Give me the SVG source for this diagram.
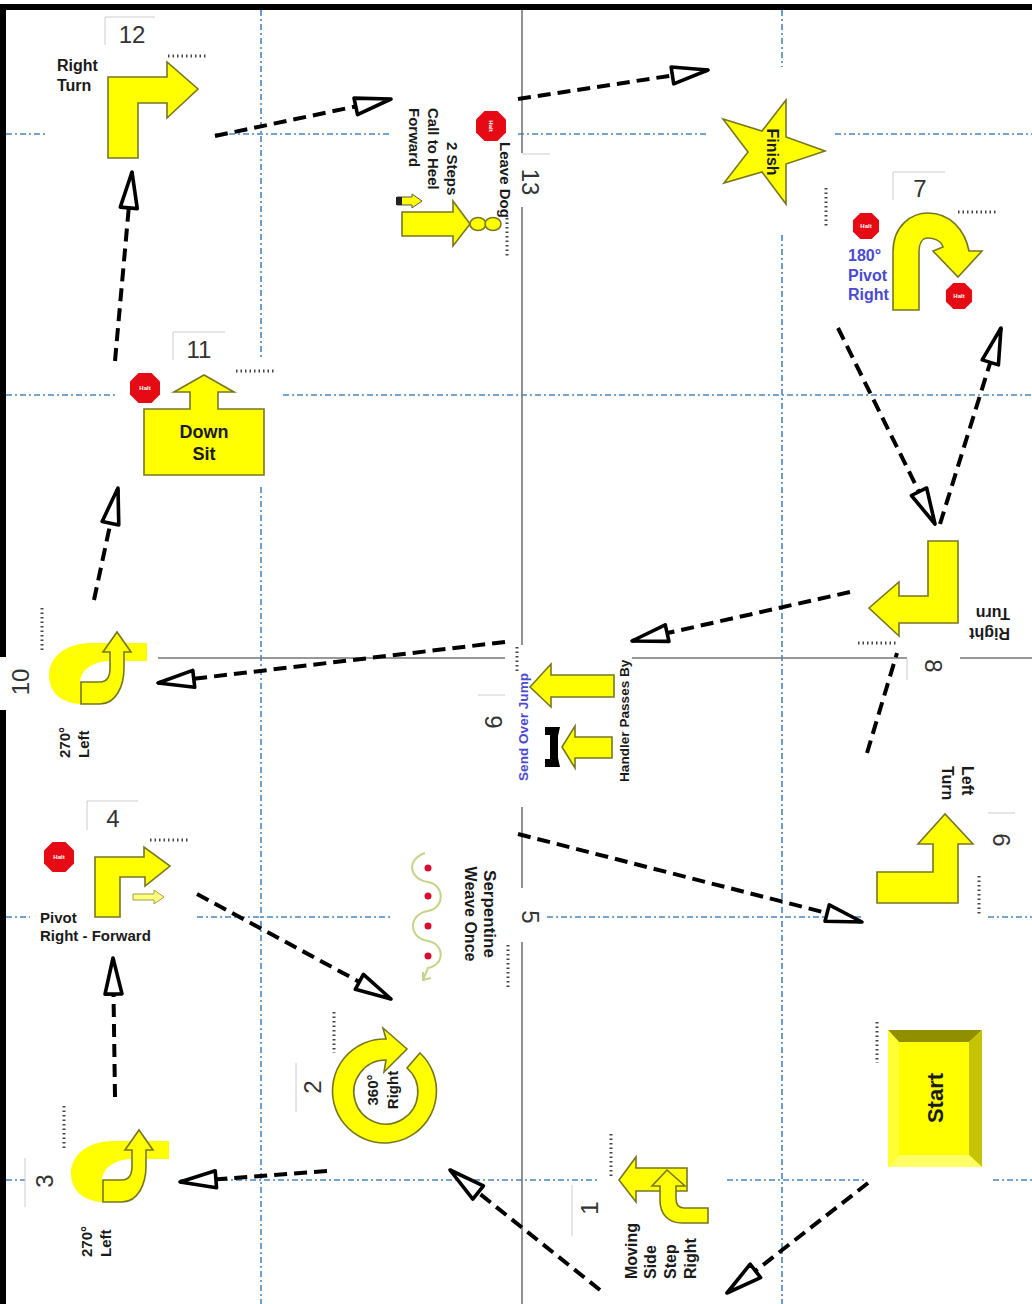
<svg xmlns="http://www.w3.org/2000/svg" width="1032" height="1304" viewBox="0 0 1032 1304">
<style>
text{font-family:"Liberation Sans",Arial,sans-serif;fill:#1a1a1a}
.l{font-size:15px;font-weight:bold}
.m{font-size:16px;font-weight:bold}
.j{font-size:13.6px;font-weight:bold}
.n{font-size:24px;fill:#333}
.b{fill:#4a4ad0}
.y{fill:#ffff00;stroke:#777722;stroke-width:1.6}
.g{fill:none;stroke:#4a86c0;stroke-width:1.6;stroke-dasharray:6 3 2 3}
.s{fill:none;stroke:#777;stroke-width:1.6}
.t{fill:none;stroke:#ccc;stroke-width:1}
.c{fill:none;stroke:#000;stroke-width:4;stroke-dasharray:13 7;marker-end:url(#h)}
.c0{fill:none;stroke:#000;stroke-width:4;stroke-dasharray:13 7}
.tag{fill:none;stroke:#444;stroke-width:3;stroke-dasharray:1.5 3}
.halt{fill:#e60a14}
.ht{font-size:6px;font-weight:bold;fill:#fff;text-anchor:middle}
</style>
<defs>
<marker id="h" markerUnits="userSpaceOnUse" markerWidth="50" markerHeight="30" refX="39" refY="12" orient="auto"><path d="M3 3.5V20.5L39 12Z" fill="#fff" stroke="#000" stroke-width="3.6" stroke-linejoin="round"/></marker>
<path id="oct" d="M-6.5 -15H6.5L15 -6.5V6.5L6.5 15H-6.5L-15 6.5V-6.5Z"/>
<g id="loop"><path d="M147 643V661H108C92 662 81 670 80 682L105 704H82C65 704 49 695 49 675C49 660 62 643 92 643Z" fill="#ffff00"/><path class="y" d="M81 704V682H100C107 682 110 676 110 668V652H103L117 632L131 652H124V668C124 686 116 704 100 704Z"/></g>
</defs>
<rect width="1032" height="1304" fill="#fff"/>
<path d="M0 4H1032V10H6V1304H0Z" fill="#000"/>
<g id="grid">
<path class="g" d="M261 10V360M261 487V1304M782 10V67M782 235V1304"/>
<path class="g" d="M6 134H46M215 134H390M518 134H708M835 134H1032M6 395H115M283 395H1032M6 917H30M197 917H390M547 917H863M988 917H1032M6 1180H25M180 1180H598M727 1180H867M993 1180H1032"/>
<path class="s" d="M522 10V153M522 207V645M522 807V888M522 942V1304M158 658H505M632 658H907M960 658H1032"/>
</g>
<g id="connectors">
<path class="c" d="M868 1183L727 1293"/>
<path class="c" d="M600 1290L450 1170"/>
<path class="c" d="M327 1171L180 1182"/>
<path class="c" d="M115 1097L113 958"/>
<path class="c" d="M197 894L391 999"/>
<path class="c" d="M518 834L862 922"/>
<path class="c0" d="M867 753L897 653"/>
<path class="c" d="M838 328L935 524"/>
<path class="c" d="M940 524L1001 328"/>
<path class="c" d="M850 592L632 641"/>
<path class="c" d="M505 642L158 683"/>
<path class="c" d="M94 600L118 488"/>
<path class="c" d="M115 361L132 172"/>
<path class="c" d="M215 136L391 99"/>
<path class="c" d="M518 99L708 70"/>
</g>
<g id="node-start">
<rect x="888" y="1030" width="94" height="137" fill="#ffff00"/>
<path d="M888 1030H982L969 1042H899Z" fill="#8f8f00"/>
<path d="M982 1030V1167L969 1155V1042Z" fill="#c4c400"/>
<path d="M888 1167H982L969 1155H899Z" fill="#ffff66"/>
<path d="M888 1030L899 1042V1155L888 1167Z" fill="#ffff33"/>
<text transform="translate(943 1098) rotate(-90)" text-anchor="middle" font-size="22" font-weight="bold">Start</text>
<path class="tag" d="M877 1022V1063"/>
</g>
<g id="node-1">
<path class="y" d="M619 1180L636 1157V1168H687V1191H636V1202Z"/>
<path class="y" d="M667 1170L652 1186H660V1200C660 1214 668 1223 682 1223H708V1208H684C678 1208 676 1204 676 1198V1186H685Z"/>
<text class="m" transform="translate(637 1279) rotate(-90)">Moving</text>
<text class="m" transform="translate(656 1279) rotate(-90)">Side</text>
<text class="m" transform="translate(676 1279) rotate(-90)">Step</text>
<text class="m" transform="translate(696 1279) rotate(-90)">Right</text>
<text class="n" transform="translate(598 1208) rotate(-90)" text-anchor="middle">1</text>
<path class="t" d="M572 1185V1236"/>
<path class="tag" d="M611 1134V1177"/>
</g>
<g id="node-2">
<path class="y" d="M420 1053A52 52 0 1 1 386 1039L383 1028L407 1049L384 1072L386 1060A32 32 0 1 0 407 1068Z"/>
<text class="l" transform="translate(378 1090) rotate(-90)" text-anchor="middle">360°</text>
<text class="l" transform="translate(398 1090) rotate(-90)" text-anchor="middle">Right</text>
<text class="n" transform="translate(321 1087) rotate(-90)" text-anchor="middle">2</text>
<path class="t" d="M296 1063V1112"/>
<path class="tag" d="M334 1012V1053"/>
</g>
<g id="node-3">
<use href="#loop" x="22" y="498"/>
<text class="l" transform="translate(92 1257) rotate(-90)">270°</text>
<text class="l" transform="translate(111 1257) rotate(-90)">Left</text>
<text class="n" transform="translate(53 1181) rotate(-90)" text-anchor="middle">3</text>
<path class="t" d="M25 1158V1207"/>
<path class="tag" d="M64 1106V1148"/>
</g>
<g id="node-4">
<path class="y" d="M95 857H144V847L170 866L145 886V877H120V917H95Z"/>
<path d="M133 894H154V890L164 897L154 904V900H133Z" fill="#ffff80" stroke="#a0a040"/>
<use href="#oct" class="halt" x="59" y="857"/>
<text class="ht" x="59" y="859">Halt</text>
<text class="l" x="40" y="923">Pivot</text>
<text class="l" x="40" y="941">Right - Forward</text>
<text class="n" x="113" y="827" text-anchor="middle">4</text>
<path class="t" d="M87 830V801H138"/>
<path class="tag" d="M150 840H190"/>
</g>
<g id="node-5">
<path d="M425 853C405 860 410 880 428 882C445 885 445 908 428 911C408 914 408 938 428 941C445 944 445 965 428 968L423 980M423 972L423 980L431 978" fill="none" stroke="#c2d68a" stroke-width="2"/>
<g fill="#d81030"><circle cx="428" cy="868" r="3.5"/><circle cx="428" cy="896" r="3.5"/><circle cx="428" cy="926" r="3.5"/><circle cx="428" cy="956" r="3.5"/></g>
<text style="font-size:17px;font-weight:bold" transform="translate(484 914) rotate(90)" text-anchor="middle">Serpentine</text>
<text class="m" transform="translate(465 914) rotate(90)" text-anchor="middle">Weave Once</text>
<text class="n" transform="translate(522 917) rotate(90)" text-anchor="middle">5</text>
<path class="tag" d="M508 945V990"/>
</g>
<g id="node-6">
<path class="y" d="M877 872H933V844H918L945 814L973 844H958V903H877Z"/>
<text class="m" transform="translate(962 766) rotate(90)">Left</text>
<text class="m" transform="translate(942 766) rotate(90)">Turn</text>
<text class="n" transform="translate(993 840) rotate(90)" text-anchor="middle">6</text>
<path class="t" d="M988 813H1015"/>
<path class="tag" d="M979 876V916"/>
</g>
<g id="node-7">
<path class="y" d="M893 310V252C893 225 912 213 928 213C950 213 965 230 969 251H982L958 277L933 251L943 247C941 240 933 238 928 238C922 238 919 244 919 252V310Z"/>
<use href="#oct" class="halt" transform="translate(866 226) scale(.87)"/>
<text class="ht" x="866" y="228">Halt</text>
<use href="#oct" class="halt" transform="translate(959 296) scale(.87)"/>
<text class="ht" x="959" y="298">Halt</text>
<text class="m b" x="848" y="261">180°</text>
<text class="m b" x="848" y="281">Pivot</text>
<text class="m b" x="848" y="300">Right</text>
<text class="n" x="920" y="197" text-anchor="middle">7</text>
<path class="t" d="M893 200V172H945"/>
<path class="tag" d="M958 212H998"/>
</g>
<g id="node-8">
<path class="y" d="M928 541H958V623H899V636L869 608L899 582V596H928Z"/>
<text class="m" transform="translate(1010 628) rotate(180)">Right</text>
<text class="m" transform="translate(1010 608) rotate(180)">Turn</text>
<text class="n" transform="translate(925 666) rotate(90)" text-anchor="middle">8</text>
<path class="t" d="M907 658V680"/>
<path class="tag" d="M858 643H898"/>
</g>
<g id="node-9">
<path class="y" d="M530 687L551 664V675H614V697H551V707Z"/>
<path class="y" d="M562 747L575 726V737H612V758H575V768Z"/>
<path d="M545 727H560L558 736V758L560 767H545V759H550V735H545Z" fill="#000"/>
<text class="j b" transform="translate(528 781) rotate(-90)">Send Over Jump</text>
<text class="j" transform="translate(629 782) rotate(-90)">Handler Passes By</text>
<text class="n" transform="translate(485 722) rotate(90)" text-anchor="middle">9</text>
<path class="t" d="M478 695H505"/>
<path class="tag" d="M517 647V672"/>
</g>
<g id="node-10">
<rect x="0" y="657" width="28" height="53" fill="#fff"/>
<use href="#loop"/>
<text class="l" transform="translate(70 758) rotate(-90)">270°</text>
<text class="l" transform="translate(89 758) rotate(-90)">Left</text>
<text class="n" transform="translate(29 682) rotate(-90)" text-anchor="middle">10</text>
<path class="tag" d="M42 608V651"/>
</g>
<g id="node-11">
<path class="y" d="M204 375L174 392H190V409H144V475H264V409H218V392H234Z"/>
<use href="#oct" class="halt" x="145" y="388"/>
<text class="ht" x="145" y="390">Halt</text>
<text x="204" y="438" text-anchor="middle" font-size="18" font-weight="bold">Down</text>
<text x="204" y="460" text-anchor="middle" font-size="18" font-weight="bold">Sit</text>
<text class="n" x="199" y="358" text-anchor="middle">11</text>
<path class="t" d="M173 360V332H225"/>
<path class="tag" d="M236 371H276"/>
</g>
<g id="node-12">
<path class="y" d="M108 77H167V62L198 89L167 118V103H138V158H108Z"/>
<text class="m" x="57" y="71">Right</text>
<text class="m" x="57" y="91">Turn</text>
<text class="n" x="132" y="43" text-anchor="middle">12</text>
<path class="t" d="M105 45V17H155"/>
<path class="tag" d="M168 56H208"/>
</g>
<g id="node-13">
<use href="#oct" class="halt" x="491" y="126"/>
<text class="ht" transform="translate(489 126) rotate(90)">Halt</text>
<path class="y" d="M402 212H453V201L470 224L453 246V236H402Z"/>
<ellipse class="y" cx="478" cy="224" rx="8" ry="6.5"/><ellipse class="y" cx="493" cy="224" rx="8" ry="6.5"/>
<path d="M397 197H412V194L422 201L412 208V205H397Z" fill="#ffff00" stroke="#555"/>
<rect x="396" y="197" width="6" height="8" fill="#222"/>
<text class="l" transform="translate(500 142) rotate(90)">Leave Dog</text>
<text class="l" transform="translate(447 142) rotate(90)">2 Steps</text>
<text class="l" transform="translate(428 108) rotate(90)">Call to Heel</text>
<text class="l" transform="translate(409 108) rotate(90)">Forward</text>
<text class="n" transform="translate(522 182) rotate(90)" text-anchor="middle">13</text>
<path class="t" d="M522 154H550"/>
<path class="tag" d="M507 218V258"/>
</g>
<g id="node-finish">
<path class="y" d="M786 100L762 131L723 119L748 152L724 183L762 172L786 204L786 164L825 151L786 137Z"/>
<text class="m" transform="translate(767 152) rotate(90)" text-anchor="middle">Finish</text>
<path class="tag" d="M826 188V228"/>
</g>
</svg>
